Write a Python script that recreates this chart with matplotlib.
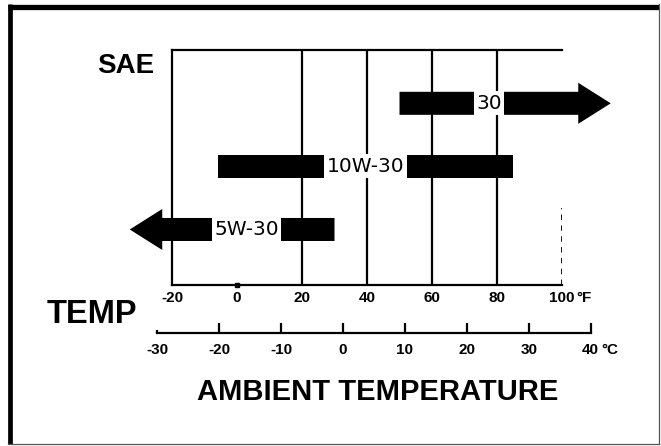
import matplotlib
matplotlib.use("Agg")
import matplotlib.pyplot as plt
from matplotlib.lines import Line2D

# ---------------- data ----------------
grades = ["5W-30", "10W-30", "30"]
grade_start_f = [-33, -6, 50]       # left end of each band (°F)
grade_end_f = [30, 85, 115]         # right end of each band (°F)
grade_arrow = ["left", None, "right"]
label_at_f = [3, 39.5, 77.5]        # where the grade label sits (°F)

f_ticks = [-20, 0, 20, 40, 60, 80, 100]
f_labels = ["-20", "0", "20", "40", "60", "80", "100"]
f_grid = [20, 40, 60, 80]
c_ticks = [-30, -20, -10, 0, 10, 20, 30, 40]
c_labels = ["-30", "-20", "-10", "0", "10", "20", "30", "40"]

W, H = 661, 446
fig = plt.figure(figsize=(W / 100, H / 100), dpi=100)
fig.patch.set_facecolor("white")


def fx(x):
    return x / W


def fy(y):
    return 1 - y / H


BOLD = ["Liberation Sans", "DejaVu Sans"]
LABEL = ["DejaVu Sans"]

# ---------------- outer frame ----------------
fig.add_artist(Line2D([fx(8), fx(659)], [fy(6.5), fy(6.5)], lw=3.8, color="black",
                      transform=fig.transFigure, solid_capstyle="butt"))
fig.add_artist(Line2D([fx(10), fx(10)], [fy(4), fy(444)], lw=3.4, color="black",
                      transform=fig.transFigure, solid_capstyle="butt"))
fig.add_artist(Line2D([fx(659), fx(659)], [fy(4), fy(444)], lw=0.9, color="#555555",
                      transform=fig.transFigure))
fig.add_artist(Line2D([fx(8), fx(659)], [fy(444), fy(444)], lw=0.9, color="#555555",
                      transform=fig.transFigure))

# ---------------- Fahrenheit grid axes ----------------
ax = fig.add_axes([fx(172), fy(285), fx(562) - fx(172), fy(50) - fy(285)])
ax.set_facecolor("none")
ax.set_xlim(-20, 100)
ax.set_ylim(-0.88, 2.845)
for s in ["left", "top", "bottom"]:
    ax.spines[s].set_linewidth(1.6)
    ax.spines[s].set_color("black")
ax.spines["right"].set_visible(False)
ax.set_yticks([])
ax.set_xticks(f_ticks)
ax.set_xticklabels(f_labels, fontfamily=BOLD, fontweight="bold", fontsize=11)
ax.tick_params(axis="x", length=0, pad=4.5)
ax.annotate("°F", xy=(100, -0.88), xycoords="data", xytext=(10, -4.5),
            textcoords="offset points", ha="left", va="top",
            fontfamily=BOLD, fontweight="bold", fontsize=11, annotation_clip=False)

ax.vlines(f_grid, -0.88, 2.845, color="black", lw=1.6, zorder=1)
ax.vlines([100], -0.88, 0.34, color="black", lw=1.3, linestyles=(0, (3, 3)), zorder=1)
ax.plot([0], [-0.88], marker="s", ms=3, color="black", clip_on=False, zorder=3)

bar_h = 0.365
head_w = 0.65
head_l = 10
for i, (g, s, e, a, lx) in enumerate(zip(grades, grade_start_f, grade_end_f,
                                          grade_arrow, label_at_f)):
    if a == "right":
        ax.arrow(s, i, e - s, 0, width=bar_h, head_width=head_w, head_length=head_l,
                 length_includes_head=True, color="black", lw=0, clip_on=False, zorder=2)
    elif a == "left":
        ax.arrow(e, i, s - e, 0, width=bar_h, head_width=head_w, head_length=head_l,
                 length_includes_head=True, color="black", lw=0, clip_on=False, zorder=2)
    else:
        ax.barh(i, e - s, left=s, height=bar_h, color="black", zorder=2)
    ax.text(lx, i, g, ha="center", va="center", fontfamily=LABEL, fontsize=14.5,
            color="black", zorder=4,
            bbox=dict(boxstyle="square,pad=0.12", fc="white", ec="none"))

# ---------------- Celsius axis ----------------
cax = fig.add_axes([fx(157.3), fy(332.7), fx(590.7) - fx(157.3), 0.05])
cax.set_facecolor("none")
cax.set_xlim(-30, 40)
cax.set_ylim(0, 1)
for s in ["left", "right", "top"]:
    cax.spines[s].set_visible(False)
cax.spines["bottom"].set_linewidth(1.6)
cax.set_yticks([])
cax.set_xticks(c_ticks)
cax.set_xticklabels(c_labels, fontfamily=BOLD, fontweight="bold", fontsize=11)
cax.tick_params(axis="x", direction="in", length=7.2, width=1.6, pad=7.5)
cax.xaxis.get_major_ticks()[0].tick1line.set_markersize(2.5)
cax.annotate("°C", xy=(40, 0), xycoords="data", xytext=(7.5, -7.5),
             textcoords="offset points", ha="left", va="top",
             fontfamily=BOLD, fontweight="bold", fontsize=11, annotation_clip=False)

# ---------------- titles ----------------
fig.text(fx(97), fy(73), "SAE", ha="left", va="baseline", fontfamily=BOLD,
         fontweight="bold", fontsize=20)
fig.text(fx(47), fy(323), "TEMP", ha="left", va="baseline", fontfamily=BOLD,
         fontweight="bold", fontsize=23.5)
fig.text(fx(377.5), fy(400), "AMBIENT TEMPERATURE", ha="center", va="baseline",
         fontfamily=BOLD, fontweight="bold", fontsize=21)

fig.savefig("out.png", dpi=100, facecolor="white")
